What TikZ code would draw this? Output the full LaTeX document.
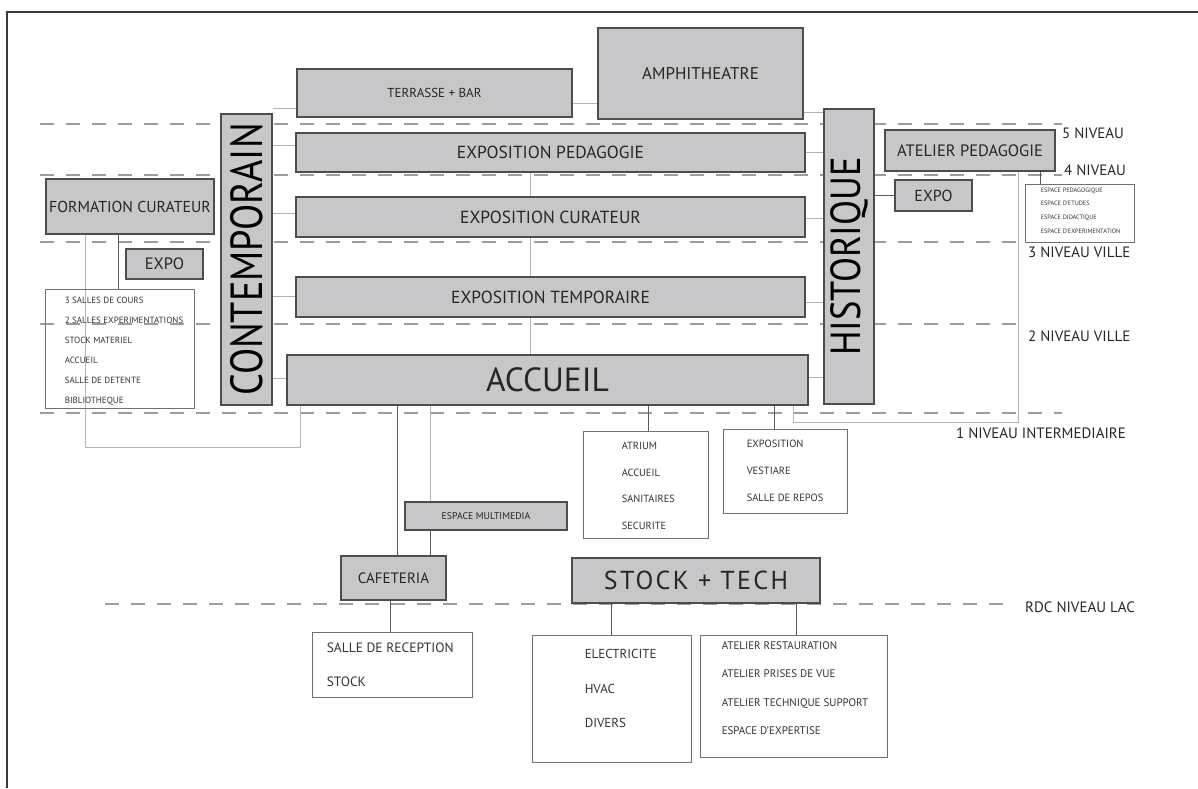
\documentclass[tikz,border=0pt]{standalone}
\usepackage{fontspec}
\usepackage{graphicx}
\setmainfont{PT Sans}
\setsansfont{PT Sans}
\usetikzlibrary{backgrounds}
\definecolor{roomfill}{HTML}{C7C7C9}
\definecolor{roomline}{HTML}{4D4D4D}
\definecolor{ink}{HTML}{262626}
\definecolor{ink2}{HTML}{333333}
\definecolor{listline}{HTML}{707070}
\definecolor{faintgray}{HTML}{B4B4B4}
\definecolor{darkgray}{HTML}{5A5A5A}
\definecolor{dashgray}{HTML}{9C9C9C}
\definecolor{framegray}{HTML}{3A3A3A}
\newcommand\fsz[1]{\fontsize{#1}{#1}\selectfont}
\newcommand\fsl[2]{\fontsize{#1}{#2}\selectfont}
\newcommand\upright[2]{\rotatebox{90}{\scalebox{#1}[1]{#2}}}
\tikzset{
  room/.style={draw=roomline, fill=roomfill, line width=1.3pt, inner sep=0pt, text=ink, font=\fsz{17}},
  tower/.style={room, text=black, font=\fsz{45}},
  listbox/.style={draw=listline, line width=0.9pt, inner sep=0pt},
  itemlist/.style={anchor=north west, align=left, inner sep=0pt, text=ink2},
  floorlabel/.style={anchor=west, inner sep=0pt, text=ink, font=\fsz{15}},
  floorline/.style={draw=dashgray, line width=1.1pt, dash pattern=on 14pt off 12pt},
  faintwire/.style={draw=faintgray, line width=1pt},
  wire/.style={draw=darkgray, line width=1pt},
}
\begin{document}
\begin{tikzpicture}[x=1pt, y=-1pt]
\useasboundingbox (0,0) rectangle (1198,788);
\draw[framegray, line width=2pt] (7,788) -- (7,12) -- (1198,12);
% --- upper levels
\node[room, minimum width=275pt, minimum height=48pt, font=\fsz{13}] (terrasse) at (434.5,93) {TERRASSE + BAR};
\node[room, minimum width=205pt, minimum height=91pt] (amphi) at (700.5,73.5) {AMPHITHEATRE};
\node[room, minimum width=509pt, minimum height=39pt, font=\fsz{17.5}] (expoped) at (550.5,152.5) {EXPOSITION PEDAGOGIE};
\node[room, minimum width=509pt, minimum height=40pt, font=\fsz{17.5}] (expocur) at (550.5,217) {EXPOSITION CURATEUR};
\node[room, minimum width=509pt, minimum height=40pt, font=\fsz{17.5}] (expotemp) at (550.5,297) {EXPOSITION TEMPORAIRE};
\node[room, minimum width=521pt, minimum height=50pt, font=\fsz{33.5}] (accueil) at (547.5,380) {ACCUEIL};
\node[tower, minimum width=51pt, minimum height=291pt] (contemp) at (246.5,259.5) {\upright{0.85}{CONTEMPORAIN}};
\node[tower, minimum width=50pt, minimum height=295pt, font=\fsz{42}] (histo) at (849,256.5) {\upright{0.87}{HISTORIQUE}};
% --- left wing
\node[room, minimum width=168pt, minimum height=55pt, font=\fsz{15.8}] (formation) at (130,206.5) {FORMATION CURATEUR};
\node[room, minimum width=77pt, minimum height=30pt, font=\fsz{16.5}] (expol) at (164.5,264) {EXPO};
\node[listbox, minimum width=149pt, minimum height=119pt] (salles) at (119.5,348.5) {};
\node[itemlist, font={\fsl{9}{20}}] (sallestxt) at ([xshift=20pt,yshift=-8pt]salles.north west) {3 SALLES DE COURS\\2 SALLES EXPERIMENTATIONS\\STOCK MATERIEL\\ACCUEIL\\SALLE DE DETENTE\\BIBLIOTHEQUE};
% --- right wing
\node[room, minimum width=170pt, minimum height=41pt, font=\fsz{16.5}] (atelierped) at (970,150.5) {ATELIER PEDAGOGIE};
\node[room, minimum width=77pt, minimum height=31pt, font=\fsz{16}] (expor) at (933.5,195.5) {EXPO};
\node[listbox, minimum width=109pt, minimum height=58pt] (espaces) at (1079.5,213) {};
\node[itemlist, font={\fsl{6.3}{13.6}}] (espacestxt) at ([xshift=16pt,yshift=-4pt]espaces.north west) {ESPACE PEDAGOGIQUE\\ESPACE D'ETUDES\\ESPACE DIDACTIQUE\\ESPACE D'EXPERIMENTATION};
% --- below accueil
\node[listbox, minimum width=125pt, minimum height=107pt] (atrium) at (645.5,484.5) {};
\node[itemlist, font={\fsl{10.4}{26.7}}] (atriumtxt) at ([xshift=39pt,yshift=-11.3pt]atrium.north west) {ATRIUM\\ACCUEIL\\SANITAIRES\\SECURITE};
\node[listbox, minimum width=124pt, minimum height=84pt] (vestiaire) at (785,471) {};
\node[itemlist, font={\fsl{10.5}{27}}] (vestiairetxt) at ([xshift=24pt,yshift=-11.3pt]vestiaire.north west) {EXPOSITION\\VESTIARE\\SALLE DE REPOS};
\node[room, minimum width=162pt, minimum height=28pt, font=\fsz{9.8}] (multimedia) at (486,516) {ESPACE MULTIMEDIA};
\node[room, minimum width=105pt, minimum height=44pt, font=\fsz{15}] (cafeteria) at (393.5,578) {CAFETERIA};
\node[room, minimum width=248pt, minimum height=45pt, font=\fsz{26}\addfontfeatures{LetterSpace=9}] (stocktech) at (696,580.5) {STOCK + TECH};
% --- rdc
\node[listbox, minimum width=160pt, minimum height=65pt] (reception) at (392,664.5) {};
\node[itemlist, font={\fsl{13.5}{34}}] (receptiontxt) at ([xshift=15pt,yshift=-11.3pt]reception.north west) {SALLE DE RECEPTION\\STOCK};
\node[listbox, minimum width=159pt, minimum height=127pt] (techniq) at (611.5,698.5) {};
\node[itemlist, font={\fsl{13}{34.5}}] (techniqtxt) at ([xshift=53pt,yshift=-14.5pt]techniq.north west) {ELECTRICITE\\HVAC\\DIVERS};
\node[listbox, minimum width=187pt, minimum height=122pt] (ateliers) at (793.5,696) {};
\node[itemlist, font={\fsl{11}{28.3}}] (atelierstxt) at ([xshift=22pt,yshift=-7pt]ateliers.north west) {ATELIER RESTAURATION\\ATELIER PRISES DE VUE\\ATELIER TECHNIQUE SUPPORT\\ESPACE D'EXPERTISE};
% --- levels
\node[floorlabel] (lvl5) at (1062,133) {5 NIVEAU};
\node[floorlabel] (lvl4) at (1064,170) {4 NIVEAU};
\node[floorlabel] (lvl3) at (1028,252) {3 NIVEAU VILLE};
\node[floorlabel] (lvl2) at (1028,336) {2 NIVEAU VILLE};
\node[floorlabel] (lvl1) at (956,433) {1 NIVEAU INTERMEDIAIRE};
\node[floorlabel] (lvl0) at (1025,607) {RDC NIVEAU LAC};
\begin{scope}[on background layer]
\fill[white] (0,0) rectangle (1198,788);
\draw[floorline] (40,124) -- (1062,124);
\draw[floorline] (40,175) -- (1062,175);
\draw[floorline] (40,242) -- (1025,242);
\draw[floorline] (40,324) -- (1022,324);
\draw[floorline] (40,413) -- (1062,413);
\draw[floorline] (105,604) -- (1010,604);
% contemporain side
\draw[faintwire] ([yshift=-15pt]terrasse.west) -- ([yshift=-15pt]terrasse.west -| contemp.east);
\draw[faintwire] ([yshift=7.5pt]expoped.west) -- ([yshift=7.5pt]expoped.west -| contemp.east);
\draw[faintwire] ([yshift=4pt]expocur.west) -- ([yshift=4pt]expocur.west -| contemp.east);
\draw[faintwire] ([yshift=1pt]expotemp.west) -- ([yshift=1pt]expotemp.west -| contemp.east);
\draw[faintwire] ([yshift=2pt]accueil.west) -- ([yshift=2pt]accueil.west -| contemp.east);
% historique side
\draw[faintwire] ([yshift=-10pt]terrasse.east) -- ([yshift=-10pt]terrasse.east -| amphi.west);
\draw[faintwire] ([yshift=-38.5pt]amphi.east) -- ([yshift=-38.5pt]amphi.east -| histo.west);
\draw[faintwire] (expoped.east) -- (expoped.east -| histo.west);
\draw[faintwire] ([yshift=-1pt]expocur.east) -- ([yshift=-1pt]expocur.east -| histo.west);
\draw[faintwire] ([yshift=-5pt]expotemp.east) -- ([yshift=-5pt]expotemp.east -| histo.west);
\draw[faintwire] ([yshift=3pt]accueil.east) -- ([yshift=3pt]accueil.east -| histo.west);
\draw[wire] (histo.east |- expor.west) -- (expor.west);
% central shaft
\draw[faintwire] ([xshift=-20.5pt]expoped.south) -- ([xshift=-20.5pt]expoped.south |- expocur.north);
\draw[faintwire] ([xshift=-20.5pt]expocur.south) -- ([xshift=-20.5pt]expocur.south |- expotemp.north);
\draw[faintwire] ([xshift=-20.5pt]expotemp.south) -- ([xshift=-20.5pt]expotemp.south |- accueil.north);
% wings
\draw[wire] ([xshift=-12pt]formation.south) -- ([xshift=-12pt]formation.south |- salles.north);
\draw[faintwire] ([xshift=-45pt]formation.south) |- ([xshift=-247.5pt,yshift=-42pt]accueil.south) -- ([xshift=-247.5pt]accueil.south);
\draw[wire] ([xshift=70pt]atelierped.south) -- ([xshift=70pt]atelierped.south |- espaces.north);
\draw[faintwire] ([xshift=48pt]atelierped.south) |- ([xshift=245.5pt,yshift=-17pt]accueil.south) -- ([xshift=245.5pt]accueil.south);
% accueil downwards
\draw[wire] ([xshift=2.5pt]atrium.north) -- ([xshift=2.5pt]atrium.north |- accueil.south);
\draw[wire] ([xshift=-11pt]vestiaire.north) -- ([xshift=-11pt]vestiaire.north |- accueil.south);
\draw[faintwire] ([xshift=-56pt]multimedia.north) -- ([xshift=-56pt]multimedia.north |- accueil.south);
\draw[wire] ([xshift=36.5pt]cafeteria.north) -- ([xshift=36.5pt]cafeteria.north |- multimedia.south);
\draw[wire] ([xshift=3.5pt]cafeteria.north) -- ([xshift=3.5pt]cafeteria.north |- accueil.south);
\draw[wire] ([xshift=-3.5pt]cafeteria.south) -- ([xshift=-3.5pt]cafeteria.south |- reception.north);
\draw[wire] (techniq.north) -- (techniq.north |- stocktech.south);
\draw[wire] ([xshift=2.5pt]ateliers.north) -- ([xshift=2.5pt]ateliers.north |- stocktech.south);
\end{scope}
\end{tikzpicture}
\end{document}
